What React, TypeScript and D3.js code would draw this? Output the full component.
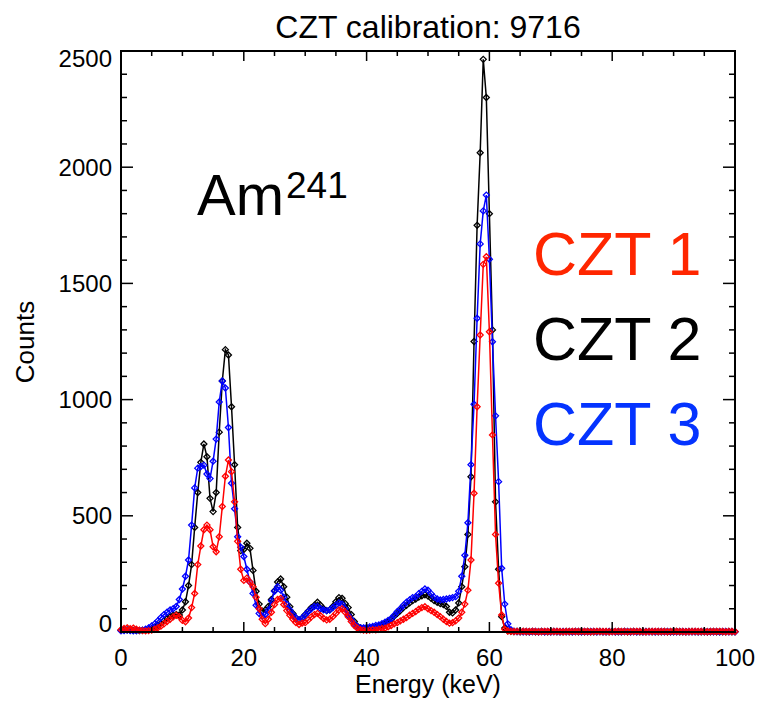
import React, { useEffect, useRef } from 'react'
import * as d3 from 'd3'

// channel energies (keV), one every 0.5 keV from 0 to 100
const energies = d3.range(0, 100.001, 0.5)

// counts, 10 channels (5 keV) per row
const czt1 = [
  10, 15, 18, 14, 17, 12, 8, 6, 5, 6,
  8, 12, 18, 25, 35, 45, 55, 65, 72, 66,
  50, 44, 60, 105, 166, 290, 370, 440, 460, 440,
  367, 345, 410, 540, 670, 740, 690, 560, 390, 270,
  222, 232, 215, 195, 150, 100, 55, 36, 55, 85,
  118, 140, 145, 118, 92, 72, 55, 40, 32, 38,
  40, 52, 65, 75, 80, 70, 58, 52, 55, 66,
  80, 95, 100, 85, 66, 45, 28, 16, 10, 8,
  7, 8, 10, 9, 12, 15, 16, 22, 28, 35,
  40, 48, 55, 62, 72, 80, 88, 98, 105, 109,
  100, 92, 85, 75, 66, 55, 45, 38, 40, 48,
  60, 85, 120, 180, 310, 597, 969, 1278, 1582, 1615,
  1292, 848, 420, 210, 73, 12, 4, 3, 2, 3,
  2, 3, 2, 2, 3, 2, 1, 2, 3, 2,
  2, 2, 3, 2, 1, 2, 2, 3, 2, 2,
  3, 2, 2, 1, 2, 3, 2, 2, 2, 1,
  2, 2, 3, 2, 2, 1, 2, 2, 3, 2,
  2, 1, 2, 2, 3, 2, 2, 2, 1, 2,
  3, 2, 2, 2, 1, 2, 2, 3, 2, 2,
  2, 1, 2, 2, 2, 3, 2, 1, 2, 2,
  2
]

const czt2 = [
  8, 10, 9, 8, 7, 6, 6, 7, 8, 10,
  14, 20, 28, 38, 48, 58, 66, 72, 75, 73,
  95, 130, 200, 290, 450, 600, 730, 809, 754, 575,
  518, 600, 860, 1080, 1215, 1192, 969, 720, 450, 350,
  355, 382, 360, 265, 175, 120, 90, 95, 110, 140,
  178, 215, 228, 195, 150, 109, 80, 60, 52, 60,
  75, 90, 105, 115, 128, 115, 100, 92, 95, 110,
  130, 148, 145, 123, 105, 75, 45, 25, 18, 14,
  12, 14, 18, 20, 24, 30, 36, 45, 55, 68,
  80, 92, 105, 115, 125, 135, 142, 150, 156, 160,
  155, 145, 135, 128, 122, 118, 110, 85, 82, 95,
  125, 195, 281, 420, 668, 1250, 1750, 2062, 2464, 2300,
  1800, 1300, 560, 270, 66, 17, 5, 3, 2, 2,
  1, 2, 1, 1, 2, 1, 1, 2, 1, 1,
  1, 2, 1, 1, 1, 2, 1, 1, 2, 1,
  1, 1, 2, 1, 1, 1, 2, 1, 1, 1,
  2, 1, 1, 1, 2, 1, 1, 2, 1, 1,
  1, 1, 2, 1, 1, 1, 1, 2, 1, 1,
  1, 2, 1, 1, 1, 1, 2, 1, 1, 1,
  1, 1, 1, 2, 1, 1, 1, 1, 2, 1,
  1
]

const czt3 = [
  5, 6, 8, 6, 5, 6, 7, 8, 12, 18,
  26, 35, 48, 62, 75, 85, 95, 100, 110, 140,
  185, 240, 310, 460, 620, 705, 712, 718, 680, 660,
  735, 830, 990, 1080, 1050, 880, 640, 530, 410, 365,
  325, 270, 215, 166, 115, 80, 68, 75, 95, 135,
  175, 195, 180, 150, 120, 95, 75, 60, 52, 60,
  73, 88, 100, 110, 110, 100, 95, 92, 95, 105,
  115, 125, 120, 100, 72, 55, 35, 23, 18, 18,
  20, 22, 24, 28, 30, 36, 42, 50, 58, 72,
  88, 100, 115, 128, 138, 148, 152, 165, 175, 185,
  180, 165, 150, 142, 138, 140, 142, 145, 148, 152,
  175, 240, 330, 470, 720, 980, 1350, 1670, 1812, 1880,
  1604, 1249, 930, 647, 274, 120, 35, 10, 3, 2,
  2, 1, 2, 1, 2, 2, 1, 2, 1, 2,
  1, 2, 2, 1, 2, 1, 2, 1, 2, 2,
  1, 2, 1, 2, 2, 1, 2, 1, 1, 2,
  2, 1, 2, 1, 2, 2, 1, 2, 1, 2,
  1, 2, 1, 2, 1, 2, 2, 1, 2, 1,
  2, 1, 2, 2, 1, 2, 1, 2, 1, 2,
  2, 1, 2, 1, 2, 1, 2, 2, 1, 2,
  1
]

const xTicks = [0, 20, 40, 60, 80, 100]
const yTicks = [0, 500, 1000, 1500, 2000, 2500]
const legendLabels = ['CZT 1', 'CZT 2', 'CZT 3']

const App = () => {
  const ref = useRef<SVGSVGElement>(null)

  useEffect(() => {
    const svg = d3.select(ref.current)
    svg.selectAll('*').remove()

    const width = 761
    const height = 704
    const left = 121, right = 735, top = 51, bottom = 632
    const font = '"Liberation Sans", Arial, Helvetica, sans-serif'

    const x = d3.scaleLinear().domain([0, 100]).range([left, right])
    const y = d3.scaleLinear().domain([0, 2500]).range([bottom, top])

    svg.attr('width', width).attr('height', height).style('font-family', font)

    /* series: drawn black, blue, then red on top */
    const series = [
      { values: czt2, color: '#000000' },
      { values: czt3, color: '#0000ff' },
      { values: czt1, color: '#ff0000' }
    ]
    const line = d3.line<number>()
      .x((d, i) => x(energies[i]))
      .y(d => y(d))

    const r = 3
    series.forEach(s => {
      const g = svg.append('g')
      g.append('path')
        .attr('d', line(s.values))
        .attr('fill', 'none')
        .attr('stroke', s.color)
        .attr('stroke-width', 1.5)
      g.selectAll('path.pt')
        .data(s.values)
        .enter()
        .append('path')
        .attr('class', 'pt')
        .attr('d', (d, i) => {
          const cx = x(energies[i]), cy = y(d)
          return `M${cx},${cy - r}L${cx + r},${cy}L${cx},${cy + r}L${cx - r},${cy}Z`
        })
        .attr('fill', 'none')
        .attr('stroke', s.color)
        .attr('stroke-width', 1.3)
    })

    /* frame and ticks */
    svg.append('rect')
      .attr('x', left).attr('y', top)
      .attr('width', right - left).attr('height', bottom - top)
      .attr('fill', 'none').attr('stroke', '#000').attr('stroke-width', 2)

    const ticks = svg.append('g').attr('stroke', '#000').attr('stroke-width', 1.5)
    d3.range(0, 100.001, 5).forEach(v => {
      const len = v % 20 === 0 ? 10 : 5
      ticks.append('line').attr('x1', x(v)).attr('x2', x(v)).attr('y1', bottom).attr('y2', bottom - len)
      ticks.append('line').attr('x1', x(v)).attr('x2', x(v)).attr('y1', top).attr('y2', top + len)
    })
    d3.range(0, 2500.001, 100).forEach(v => {
      const len = v % 500 === 0 ? 12 : 6
      ticks.append('line').attr('y1', y(v)).attr('y2', y(v)).attr('x1', left).attr('x2', left + len)
      ticks.append('line').attr('y1', y(v)).attr('y2', y(v)).attr('x1', right).attr('x2', right - len)
    })

    /* tick labels */
    svg.selectAll('text.xt')
      .data(xTicks)
      .enter()
      .append('text')
      .attr('x', d => x(d))
      .attr('y', 666)
      .attr('text-anchor', 'middle')
      .attr('font-size', 24)
      .text(d => d)

    svg.selectAll('text.yt')
      .data(yTicks)
      .enter()
      .append('text')
      .attr('x', 112)
      .attr('y', d => Math.min(Math.max(y(d), top + 8), bottom - 8))
      .attr('dy', '0.35em')
      .attr('text-anchor', 'end')
      .attr('font-size', 24)
      .text(d => d)

    /* titles */
    svg.append('text')
      .attr('x', (left + right) / 2).attr('y', 38)
      .attr('text-anchor', 'middle').attr('font-size', 32)
      .text('CZT calibration: 9716')

    svg.append('text')
      .attr('x', (left + right) / 2).attr('y', 693)
      .attr('text-anchor', 'middle').attr('font-size', 25)
      .text('Energy (keV)')

    svg.append('text')
      .attr('transform', 'translate(34,342) rotate(-90)')
      .attr('text-anchor', 'middle').attr('font-size', 26)
      .text('Counts')

    /* isotope label */
    const iso = svg.append('text').attr('x', 197).attr('y', 215).attr('font-size', 58)
    iso.append('tspan').text('Am')
    iso.append('tspan').attr('font-size', 37).attr('dy', -17).attr('dx', 2).text('241')

    /* legend */
    const legendColors = ['#ff2600', '#000000', '#0433ff']
    svg.selectAll('text.lg')
      .data(legendLabels)
      .enter()
      .append('text')
      .attr('x', 533)
      .attr('y', (d, i) => 275 + i * 85)
      .attr('font-size', 61)
      .attr('fill', (d, i) => legendColors[i])
      .text(d => d)
  }, [])

  return <svg ref={ref} style={{ position: 'absolute', left: 0, top: 0 }}></svg>
}

export default App
